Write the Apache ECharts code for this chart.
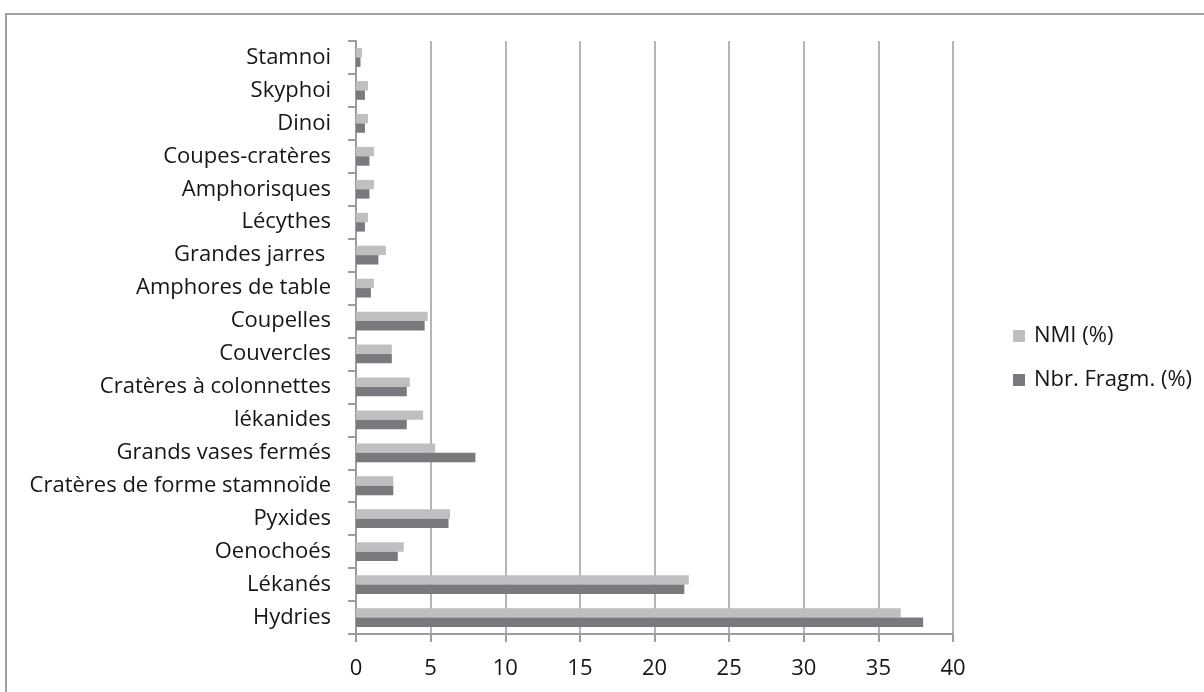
<!DOCTYPE html>
<html>
<head>
<meta charset="utf-8">
<script src="https://cdn.jsdelivr.net/npm/echarts@6/dist/echarts.min.js"></script>
<style>
html,body{margin:0;padding:0;background:#fff;}
#chart{width:1204px;height:692px;}
</style>
</head>
<body>
<div id="chart"></div>
<script>
const categories = ['Hydries','Lékanés','Oenochoés','Pyxides','Cratères de forme stamnoïde','Grands vases fermés','lékanides','Cratères à colonnettes','Couvercles','Coupelles','Amphores de table','Grandes jarres ','Lécythes','Amphorisques','Coupes-cratères','Dinoi','Skyphoi','Stamnoi'];
const nmi = [36.5, 22.3, 3.2, 6.3, 2.5, 5.3, 4.5, 3.6, 2.4, 4.8, 1.2, 2.0, 0.8, 1.2, 1.2, 0.8, 0.8, 0.4];
const fragm = [38.0, 22.0, 2.8, 6.2, 2.5, 8.0, 3.4, 3.4, 2.4, 4.6, 1.0, 1.5, 0.6, 0.9, 0.9, 0.6, 0.6, 0.3];
const seriesNames = ['NMI (%)', 'Nbr. Fragm. (%)'];
const xTicks = {min: 0, max: 40, interval: 5};

const FONT = '"Open Sans"';
const FS = 22;
const chart = echarts.init(document.getElementById('chart'), null, {renderer: 'canvas'});
chart.setOption({
  animation: false,
  backgroundColor: '#fff',
  textStyle: {fontFamily: FONT},
  graphic: [{
    type: 'rect', silent: true, z: -1,
    shape: {x: 6, y: 14, width: 1400, height: 1000},
    style: {fill: 'none', stroke: '#a0a0a0', lineWidth: 2}
  }],
  grid: {left: 356, right: 251, top: 41, bottom: 58, containLabel: false},
  legend: {
    orient: 'vertical', left: 1008, top: 320,
    itemWidth: 12, itemHeight: 12, itemGap: 22,
    icon: 'rect',
    textStyle: {fontFamily: FONT, fontSize: FS, color: '#161616', padding: [0, 0, 0, 4]},
    data: seriesNames
  },
  xAxis: {
    type: 'value', min: xTicks.min, max: xTicks.max, interval: xTicks.interval,
    axisLine: {show: true, lineStyle: {color: '#9c9c9c', width: 2}},
    axisTick: {show: true, length: 8, lineStyle: {color: '#9c9c9c', width: 2}},
    axisLabel: {fontFamily: FONT, fontSize: FS, color: '#161616', margin: 24},
    splitLine: {show: true, lineStyle: {color: '#9c9c9c', width: 1.5}}
  },
  yAxis: {
    type: 'category', data: categories,
    axisLine: {show: true, lineStyle: {color: '#9c9c9c', width: 2}},
    axisTick: {show: true, length: 8, lineStyle: {color: '#9c9c9c', width: 2}},
    axisLabel: {fontFamily: FONT, fontSize: FS, color: '#161616', margin: 25, interval: 0, padding: [5, 0, 0, 0]},
    splitLine: {show: false}
  },
  series: [
    {name: seriesNames[0], type: 'bar', data: nmi, barGap: '0%', barCategoryGap: '43%',
     itemStyle: {color: '#bfbfc1'}},
    {name: seriesNames[1], type: 'bar', data: fragm, barGap: '0%', barCategoryGap: '43%',
     itemStyle: {color: '#7a7a7e'}}
  ]
});
</script>
</body>
</html>
